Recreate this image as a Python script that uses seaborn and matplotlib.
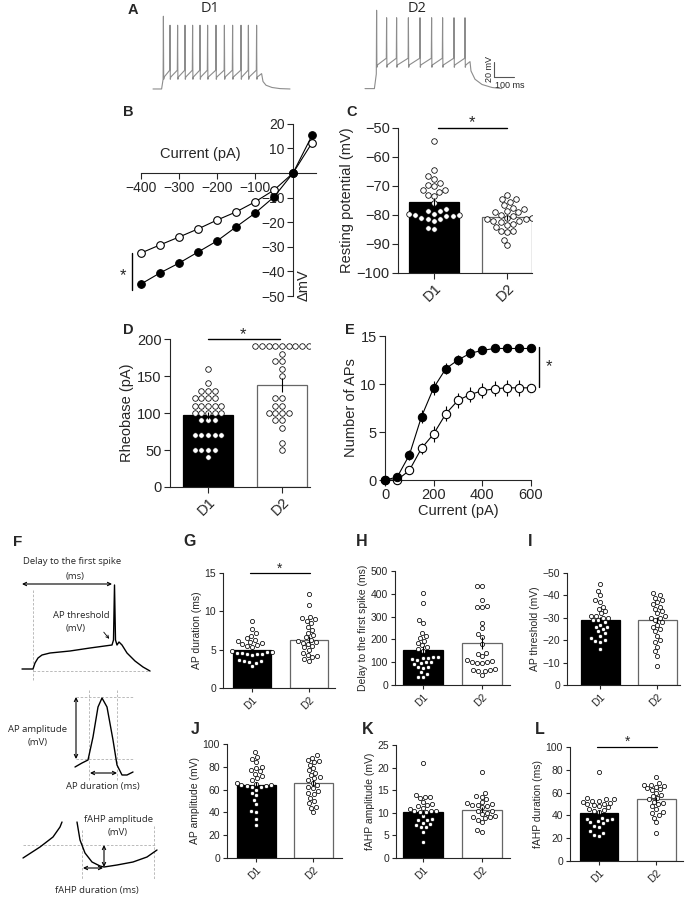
"""
Recreation of a multi-panel electrophysiology figure (D1 vs D2 neurons).
"""
import matplotlib
matplotlib.use('Agg')
import matplotlib.pyplot as plt
import seaborn as sns
import pandas as pd

W, H = 688, 898
GROUPS = ['D1', 'D2']

# ---- A: example spike trains (time in ms, voltage in mV) ----
d1_spike_times = [117, 150, 188, 225, 263, 300, 338, 380, 422, 463, 505, 542, 583]
d2_spike_times = [1183, 1233, 1283, 1342, 1400, 1458, 1513, 1570, 1625]
d1_tail_t = [615, 630, 660, 700, 750]
d1_tail_v = [-70, -75, -78, -79.5, -80]
d2_tail_t = [1655, 1675, 1710, 1760, 1810]
d2_tail_v = [-56, -67, -74, -78, -79.5]

# ---- B: I-V relation ----
iv_current = [-400, -350, -300, -250, -200, -150, -100, -50, 0, 50]
iv_d1 = [-45.1, -40.6, -36.6, -32.1, -27.6, -21.9, -16.3, -9.7, 0, 15.3]
iv_d1_sem = [1.8, 1.7, 1.5, 1.4, 1.2, 1.0, 0.9, 0.7, 0, 0.6]
iv_d2 = [-32.5, -29.2, -26.0, -22.7, -19.1, -15.8, -11.7, -6.9, 0, 12.3]
iv_d2_sem = [1.0, 0.9, 0.9, 0.8, 0.7, 0.6, 0.5, 0.4, 0, 0.5]

# ---- C: resting potential (mV) ----
rmp_d1 = [-54.5, -64.5, -66.5, -67.5, -69, -69.5, -70, -71.5, -72, -71.5, -73, -73.5, -76, -78,
          -78.5, -78.5, -79.5, -80, -80.5, -81, -81.5, -82, -81.5, -80.5, -80, -79.5, -84.5, -85]
rmp_d2 = [-73, -74.5, -74.5, -75.5, -76.5, -77.5, -78, -78.5, -79, -79, -80, -80.5, -81, -81,
          -81.5, -81.5, -82, -82, -82.5, -83, -83.5, -84, -85.5, -85.5, -86, -88.5, -90.5]
rmp_mean = [-75.5, -80.8]
rmp_sem = [1.3, 0.8]

# ---- D: rheobase (pA) ----
rheo_d1 = [160, 140, 130, 130, 130, 120, 120, 120, 120, 110, 110, 110, 110, 110, 100, 100,
           100, 100, 100, 90, 90, 90, 70, 70, 70, 70, 70, 50, 50, 50, 50, 40]
rheo_d2 = [190, 190, 190, 190, 190, 190, 190, 190, 190, 180, 170, 170, 160, 150, 120, 120,
           110, 110, 100, 100, 100, 100, 90, 90, 80, 60, 50]
rheo_mean = [97, 138]
rheo_sem = [5, 9]

# ---- E: number of APs vs injected current ----
ap_current = [0, 50, 100, 150, 200, 250, 300, 350, 400, 450, 500, 550, 600]
ap_d1 = [0, 0.3, 2.6, 6.6, 9.6, 11.6, 12.5, 13.2, 13.5, 13.7, 13.7, 13.7, 13.7]
ap_d1_sem = [0, 0.1, 0.5, 0.7, 0.7, 0.6, 0.5, 0.5, 0.4, 0.4, 0.4, 0.4, 0.4]
ap_d2 = [0, 0, 1.0, 3.3, 4.8, 6.9, 8.3, 8.9, 9.3, 9.5, 9.6, 9.6, 9.6]
ap_d2_sem = [0, 0, 0.3, 0.6, 0.8, 0.8, 0.8, 0.8, 0.8, 0.8, 0.8, 0.8, 0.8]

# ---- G-L: single-cell properties ----
apdur_d1 = [8.7, 7.7, 7.2, 6.8, 6.5, 6.3, 6.1, 6.0, 5.9, 5.8, 5.6, 5.5, 5.4, 4.8, 4.7, 4.7,
            4.6, 4.6, 4.5, 4.5, 4.4, 4.3, 3.6, 3.5, 3.5, 3.4, 3.3, 2.9]
apdur_d2 = [12.3, 10.8, 9.3, 9.1, 9.0, 8.8, 8.5, 8.0, 7.6, 7.2, 6.9, 6.6, 6.3, 6.1, 6.0, 5.9,
            5.8, 5.5, 5.3, 5.0, 4.6, 4.3, 4.2, 4.0, 3.8, 3.5]
delay_d1 = [403, 360, 285, 272, 230, 215, 205, 195, 185, 175, 165, 160, 150, 125, 123, 120,
            118, 115, 110, 100, 100, 95, 90, 80, 77, 75, 55, 50, 36, 35]
delay_d2 = [435, 435, 373, 345, 342, 340, 272, 250, 225, 210, 178, 140, 138, 127, 108, 105,
            103, 100, 98, 97, 68, 66, 65, 62, 60, 45]
thr_d1 = [-45, -42, -40, -38, -37, -35, -34, -33, -32, -31, -31, -30, -30, -29, -29, -28,
          -27, -26, -26, -25, -24, -23, -22, -21, -20, -19.5, -19, -16]
thr_d2 = [-41, -40, -39, -38, -37, -36, -35, -34, -33, -32, -31, -30, -30, -29, -28, -27,
          -26, -25, -24, -22, -20, -19, -17, -15, -13, -8.5]
amp_d1 = [93, 89, 87, 84, 80, 79, 77, 76, 74, 72, 70, 68, 66, 65, 64, 64, 63, 63, 62, 62,
          60, 57, 55, 51, 47, 41, 40, 34, 29]
amp_d2 = [90, 88, 86, 85, 84, 82, 79, 77, 75, 73, 71, 70, 68, 66, 64, 62, 61, 59, 57, 56,
          53, 50, 48, 45, 44, 40]
fahp_amp_d1 = [21, 13.9, 13.6, 13.4, 13.3, 12.4, 12.0, 11.7, 11.5, 11.1, 10.8, 10.5, 10.3,
               10.3, 10.2, 10.1, 9.3, 8.6, 8.4, 8.3, 7.8, 7.5, 7.2, 6.9, 6.8, 5.8, 3.5]
fahp_amp_d2 = [19, 14.3, 13.7, 13.5, 13.0, 12.3, 12.1, 11.9, 11.8, 11.7, 11.5, 11.2, 10.5,
               10.3, 10.0, 9.8, 9.2, 9.1, 9.0, 8.9, 8.5, 8.0, 6.2, 5.8]
fahp_dur_d1 = [78, 55, 54, 54, 53, 53, 52, 51, 50, 50, 49, 48, 47, 46, 45, 44, 43, 38, 37,
               37, 36, 35, 34, 33, 31, 30, 26, 25, 23, 22]
fahp_dur_d2 = [74, 68, 67, 67, 66, 65, 64, 63, 62, 60, 58, 57, 55, 54, 52, 51, 50, 48, 46,
               43, 42, 40, 38, 34, 25]

# ---- F: schematic traces (schematic drawing units) ----
f_train_x = [22, 33, 35, 38, 42, 50, 70, 90, 112, 113.5, 114.5, 115.5, 117, 119, 122, 127, 135, 143, 150]
f_train_y = [669, 669, 663, 658, 655, 653, 651, 648, 645, 640, 585, 640, 645, 642, 645, 653, 661, 667, 671]
f_ap_x = [75, 82, 88, 93, 98, 102, 107, 113, 117, 122, 127, 133]
f_ap_y = [767, 763, 760, 737, 707, 698, 707, 740, 765, 775, 775, 772]
f_ahp_left_x = [23, 40, 53, 60, 62]
f_ahp_left_y = [858, 847, 837, 827, 822]
f_ahp_right_x = [77, 80, 85, 92, 100, 104, 117, 133, 147, 157]
f_ahp_right_y = [822, 840, 853, 862, 866, 867, 865, 862, 857, 850]

sns.set_theme(style='ticks')
plt.rcParams['font.family'] = ['Liberation Sans', 'DejaVu Sans']
plt.rcParams['axes.linewidth'] = 0.8
plt.rcParams['xtick.major.width'] = 0.8
plt.rcParams['ytick.major.width'] = 0.8

fig = plt.figure(figsize=(W / 100, H / 100), dpi=100)
fig.patch.set_facecolor('white')


def add_ax(x0, y0, x1, y1):
    return fig.add_axes([x0 / W, 1 - y1 / H, (x1 - x0) / W, (y1 - y0) / H])


def ftxt(x, y, s, **kw):
    kw.setdefault('ha', 'center')
    kw.setdefault('va', 'center')
    fig.text(x / W, 1 - y / H, s, **kw)


def build_train(t0, t_on, spikes, t_off, base, plateau, trough, pre, peak, first_peak, tail_t, tail_v):
    t, v = [t0, t_on], [base, base]
    for i, s in enumerate(spikes):
        t += [s - 1.5]
        v += [plateau if i == 0 else pre]
        t += [s, s + 1.5, s + 4]
        v += [first_peak if i == 0 else peak, trough - 3, trough]
    t += [t_off]
    v += [(trough + pre) / 2]
    return t + tail_t, v + tail_v


def bar_panel(box, d1, d2, means, sems, ylim, yticks, ylabel, xlim, fs=7.5, msize=3.0, base=None):
    ax = add_ax(*box)
    df = pd.DataFrame({'group': ['D1'] * len(d1) + ['D2'] * len(d2), 'value': list(d1) + list(d2)})
    sns.barplot(x=GROUPS, y=means, hue=GROUPS, palette=['black', 'white'], width=0.68,
                errorbar=None, legend=False, ax=ax)
    for patch, ec, m in zip(ax.patches, ['black', '#666666'], means):
        patch.set_edgecolor(ec)
        patch.set_linewidth(0.9)
        if base is not None:
            # bars of a negative quantity start at the bottom of the axis
            patch.set_y(base)
            patch.set_height(m - base)
    ax.errorbar([0, 1], means, yerr=sems, fmt='none', ecolor='black', elinewidth=0.8, zorder=4)
    sns.swarmplot(data=df, x='group', y='value', order=GROUPS, color='white', edgecolor='black',
                  linewidth=0.55, size=msize, ax=ax, zorder=3)
    ax.set_xlim(*xlim)
    ax.set_ylim(*ylim)
    ax.set_yticks(yticks)
    ax.set_xlabel('')
    ax.set_ylabel(ylabel, fontsize=fs, labelpad=2)
    ax.set_xticks([0, 1])
    ax.set_xticklabels(GROUPS, rotation=45, ha='right', rotation_mode='anchor')
    ax.tick_params(labelsize=fs, length=3, pad=2)
    sns.despine(ax=ax)
    return ax


# ================= A =================
ax_a = add_ax(140, 0, 540, 100)
ax_a.set_xlim(0, 2000)
ax_a.set_ylim(-94.7, 38.7)
ax_a.axis('off')
t1, v1 = build_train(65, 108, d1_spike_times, 608, -80, -67, -64, -55, 5, 17, d1_tail_t, d1_tail_v)
t2, v2 = build_train(1125, 1172, d2_spike_times, 1650, -79.5, -60, -48, -39, 15, 25, d2_tail_t, d2_tail_v)
sns.lineplot(x=t1, y=v1, sort=False, color='#8c8c8c', lw=0.8, ax=ax_a)
sns.lineplot(x=t2, y=v2, sort=False, color='#8c8c8c', lw=0.8, ax=ax_a)
ax_a.plot([1770, 1770, 1870], [-44, -64, -64], color='#555555', lw=0.8)
ax_a.text(1745, -54, '20 mV', rotation=90, ha='center', va='center', fontsize=6.5)
ax_a.text(1775, -69, '100 ms', ha='left', va='top', fontsize=6.5)
ftxt(133, 10, 'A', fontsize=10.5, fontweight='bold')
ftxt(210, 9, 'D1', fontsize=10.5, family=['Open Sans', 'DejaVu Sans'])
ftxt(417, 9, 'D2', fontsize=10.5, family=['Open Sans', 'DejaVu Sans'])

# ================= B =================
ax_b = add_ax(135, 118, 320, 300)
ax_b.set_xlim(-415.8, 71)
ax_b.set_ylim(-51.6, 22.4)
for side in ['top', 'right']:
    ax_b.spines[side].set_visible(False)
ax_b.spines['left'].set_position(('data', 0))
ax_b.spines['bottom'].set_position(('data', 0))
ax_b.spines['left'].set_bounds(-50, 20)
ax_b.spines['bottom'].set_bounds(-400, 60)
ax_b.set_xticks([-400, -300, -200, -100])
ax_b.set_yticks([20, 10, -10, -20, -30, -40, -50])
ax_b.tick_params(labelsize=10, length=4, pad=2)
sns.lineplot(x=iv_current, y=iv_d2, color='black', lw=0.8, marker='o', markersize=5.5,
             markerfacecolor='white', markeredgecolor='black', markeredgewidth=0.8, ax=ax_b, zorder=3)
ax_b.errorbar(iv_current, iv_d2, yerr=iv_d2_sem, fmt='none', ecolor='black', elinewidth=0.8, zorder=2)
sns.lineplot(x=iv_current, y=iv_d1, color='black', lw=0.8, marker='o', markersize=5.5,
             markerfacecolor='black', markeredgecolor='black', ax=ax_b, zorder=4)
ax_b.errorbar(iv_current, iv_d1, yerr=iv_d1_sem, fmt='none', ecolor='black', elinewidth=0.8, zorder=2)
for ln in ax_b.lines:
    ln.set_clip_on(False)
ax_b.set_xlabel('')
ax_b.set_ylabel('')
ax_b.text(-245, 5, 'Current (pA)', fontsize=10.5, ha='center', va='bottom')
ax_b.plot([-424, -424], [-32.5, -47.6], color='black', lw=1, clip_on=False)
ax_b.text(-448, -41.5, '*', fontsize=12, ha='center', va='center')
ftxt(304, 285, '\u0394mV', rotation=90, fontsize=10.5)
ftxt(128, 112, 'B', fontsize=10.5, fontweight='bold')

# ================= C =================
ax_c = bar_panel((398, 128, 532, 273), rmp_d1, rmp_d2, rmp_mean, rmp_sem, (-100, -50),
                 [-100, -90, -80, -70, -60, -50], 'Resting potential (mV)', (-0.493, 1.342),
                 fs=10.5, msize=4.0, base=-100)
ax_c.tick_params(length=4)
ax_c.plot([0.05, 1.0], [-50, -50], color='black', lw=1, clip_on=False)
ax_c.text(0.52, -48.3, '*', fontsize=12, ha='center', va='center')
ftxt(352, 112, 'C', fontsize=10.5, fontweight='bold')

# ================= D =================
ax_d = bar_panel((170, 339, 310, 487), rheo_d1, rheo_d2, rheo_mean, rheo_sem, (0, 200),
                 [0, 50, 100, 150, 200], 'Rheobase (pA)', (-0.514, 1.378), fs=10.5, msize=4.0)
ax_d.tick_params(length=4)
ax_d.plot([0, 0.97], [200, 200], color='black', lw=1, clip_on=False)
ax_d.text(0.47, 206, '*', fontsize=12, ha='center', va='center')
ftxt(128, 330, 'D', fontsize=10.5, fontweight='bold')

# ================= E =================
ax_e = add_ax(385, 336, 531, 480)
sns.lineplot(x=ap_current, y=ap_d2, color='black', lw=0.8, marker='o', markersize=6,
             markerfacecolor='white', markeredgecolor='black', markeredgewidth=0.8, ax=ax_e, zorder=3)
ax_e.errorbar(ap_current, ap_d2, yerr=ap_d2_sem, fmt='none', ecolor='black', elinewidth=0.8, zorder=2)
sns.lineplot(x=ap_current, y=ap_d1, color='black', lw=0.8, marker='o', markersize=6,
             markerfacecolor='black', markeredgecolor='black', ax=ax_e, zorder=4)
ax_e.errorbar(ap_current, ap_d1, yerr=ap_d1_sem, fmt='none', ecolor='black', elinewidth=0.8, zorder=2)
for ln in ax_e.lines:
    ln.set_clip_on(False)
ax_e.set_xlim(0, 600)
ax_e.set_ylim(0, 15)
ax_e.set_xticks([0, 200, 400, 600])
ax_e.set_yticks([0, 5, 10, 15])
ax_e.tick_params(labelsize=10.5, length=4, pad=2)
ax_e.set_xlabel('Current (pA)', fontsize=10.5, labelpad=1)
ax_e.set_ylabel('Number of APs', fontsize=10.5, labelpad=2)
sns.despine(ax=ax_e)
ax_e.plot([631, 631], [13.9, 9.7], color='black', lw=1, clip_on=False)
ax_e.text(672, 11.8, '*', fontsize=12, ha='center', va='center')
ftxt(350, 330, 'E', fontsize=10.5, fontweight='bold')

# ================= F =================
ax_f = add_ax(0, 530, 175, 898)
ax_f.set_xlim(0, 175)
ax_f.set_ylim(898, 530)
ax_f.axis('off')
dash = dict(color='#b0b0b0', lw=0.6, ls=(0, (3, 2)))
fkw = dict(ha='center', va='center', fontsize=6.8, family=['Open Sans', 'DejaVu Sans'])
arrow = dict(arrowstyle='<->', lw=0.8, color='black', shrinkA=0, shrinkB=0, mutation_scale=6)

ax_f.plot([33, 33], [590, 680], **dash)
ax_f.plot([33, 150], [671, 671], **dash)
ax_f.plot(f_train_x, f_train_y, color='black', lw=1)
ax_f.annotate('', xy=(22, 584), xytext=(112, 584), arrowprops=arrow)
ax_f.text(72, 562, 'Delay to the first spike', **fkw)
ax_f.text(75, 577, '(ms)', **fkw)
ax_f.text(81, 615, 'AP threshold', **fkw)
ax_f.text(76, 628, '(mV)', **fkw)
ax_f.annotate('', xy=(111, 641), xytext=(102, 630),
              arrowprops=dict(arrowstyle='->', lw=0.6, color='black', mutation_scale=5))

ax_f.plot([76, 133], [697, 697], **dash)
ax_f.plot([76, 133], [759, 759], **dash)
ax_f.plot([89, 89], [690, 780], **dash)
ax_f.plot([117, 117], [690, 780], **dash)
ax_f.plot(f_ap_x, f_ap_y, color='black', lw=1)
ax_f.annotate('', xy=(76, 697), xytext=(76, 759), arrowprops=arrow)
ax_f.annotate('', xy=(90, 773), xytext=(117, 773), arrowprops=arrow)
ax_f.text(38, 729, 'AP amplitude', **fkw)
ax_f.text(38, 743, '(mV)', **fkw)
ax_f.text(103, 787, 'AP duration (ms)', **fkw)

ax_f.plot([23, 155], [845, 845], **dash)
ax_f.plot([82, 82], [830, 880], **dash)
ax_f.plot([154, 154], [826, 880], **dash)
ax_f.plot(f_ahp_left_x, f_ahp_left_y, color='black', lw=1)
ax_f.plot(f_ahp_right_x, f_ahp_right_y, color='black', lw=1)
ax_f.annotate('', xy=(104, 845), xytext=(104, 867), arrowprops=arrow)
ax_f.annotate('', xy=(83, 868), xytext=(103, 868), arrowprops=arrow)
ax_f.text(118, 820, 'fAHP amplitude', **fkw)
ax_f.text(118, 833, '(mV)', **fkw)
ax_f.text(97, 890, 'fAHP duration (ms)', **fkw)
ftxt(18, 542, 'F', fontsize=11, fontweight='bold')

# ================= G-L =================
ax_g = bar_panel((223, 573, 335, 688), apdur_d1, apdur_d2, [4.9, 6.3], [0.25, 0.45], (0, 15),
                 [0, 5, 10, 15], 'AP duration (ms)', (-0.509, 1.456))
ax_g.plot([-0.04, 1.02], [15, 15], color='black', lw=0.9, clip_on=False)
ax_g.text(0.49, 15.6, '*', fontsize=10, ha='center', va='center')

ax_h = bar_panel((395, 571, 510, 685), delay_d1, delay_d2, [155, 185], [18, 25], (0, 500),
                 [0, 100, 200, 300, 400, 500], 'Delay to the first spike (ms)', (-0.475, 1.475))

ax_i = bar_panel((567, 573, 680, 685), thr_d1, thr_d2, [-29.2, -29.0], [1.3, 1.5], (0, -50),
                 [0, -10, -20, -30, -40, -50], 'AP threshold (mV)', (-0.58, 1.40))

ax_j = bar_panel((227, 744, 342, 858), amp_d1, amp_d2, [64, 65.5], [3, 2.5], (0, 100),
                 [0, 20, 40, 60, 80, 100], 'AP amplitude (mV)', (-0.509, 1.5))

ax_k = bar_panel((396, 745, 510, 858), fahp_amp_d1, fahp_amp_d2, [10.1, 10.7], [0.6, 0.6], (0, 25),
                 [0, 5, 10, 15, 20, 25], 'fAHP amplitude (mV)', (-0.458, 1.47))

ax_l = bar_panel((570, 747, 683, 861), fahp_dur_d1, fahp_dur_d2, [42.5, 54], [2, 2.2], (0, 100),
                 [0, 20, 40, 60, 80, 100], 'fAHP duration (ms)', (-0.509, 1.47))
ax_l.plot([-0.03, 1.02], [100, 100], color='black', lw=0.9, clip_on=False)
ax_l.text(0.49, 105, '*', fontsize=10, ha='center', va='center')

for letter, x, y in [('G', 190, 542), ('H', 362, 542), ('I', 530, 542),
                     ('J', 195, 730), ('K', 368, 730), ('L', 540, 730)]:
    ftxt(x, y, letter, fontsize=11.5, fontweight='bold')

fig.savefig('out.png', dpi=100, facecolor='white')
